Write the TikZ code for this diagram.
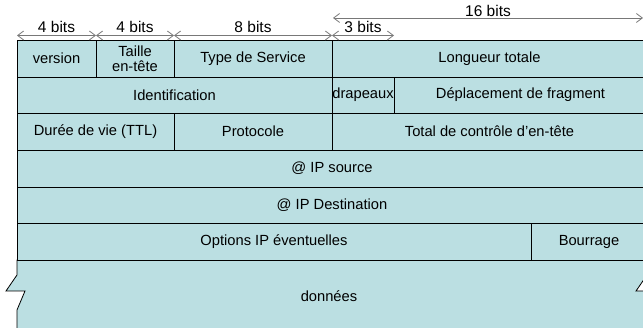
\documentclass[tikz,border=0pt]{standalone}
\usepackage{fontspec}
\setmainfont{Liberation Sans}
\usetikzlibrary{arrows.meta}
\definecolor{cellfill}{RGB}{187,223,226}
\definecolor{dimgrey}{RGB}{120,120,120}
\tikzset{
  cell/.style={draw=black, line width=0.8pt, fill=cellfill, inner sep=0pt,
    font=\fontsize{14.7}{15}\selectfont, align=center},
  dimline/.style={draw=dimgrey, line width=0.8pt,
    {Straight Barb[length=6pt,width=9pt]}-{Straight Barb[length=6pt,width=9pt]}},
  dimlabel/.style={above, inner sep=2pt, font=\fontsize{15.5}{17}\selectfont, text=black},
}
\begin{document}
\begin{tikzpicture}[x=1pt,y=-1pt]
\clip (0,0) rectangle (643,328);
\fill[white] (0,0) rectangle (643,328);
% data block
\draw[line width=0.8pt, fill=cellfill]
  (17,260) -- (17,275) -- (6,291) -- (25,291) -- (17,310) -- (17,345)
  -- (647,345) -- (647,310) -- (655,291) -- (636,291) -- (647,275) -- (647,260) -- cycle;
\node[font=\fontsize{14.7}{16}\selectfont] (data) at (329,296) {données};
% row 1
\node[cell, minimum width=79pt, minimum height=37pt] (version) at (56.5,58.5) {version};
\node[cell, minimum width=78pt, minimum height=37pt] (ihl) at (135,58.5) {Taille\\en-tête};
\node[cell, minimum width=158pt, minimum height=37pt] (tos) at (253,58.5) {Type de Service};
\node[cell, minimum width=315pt, minimum height=37pt] (len) at (489.5,58.5) {Longueur totale};
% row 2
\node[cell, minimum width=315pt, minimum height=36pt] (ident) at (174.5,95) {Identification};
\node[cell, minimum width=62pt, minimum height=36pt] (flags) at (363,95) {drapeaux};
\node[cell, minimum width=253pt, minimum height=36pt] (frag) at (520.5,95) {Déplacement de fragment};
% row 3
\node[cell, minimum width=157pt, minimum height=37pt] (ttl) at (95.5,131.5) {Durée de vie (TTL)};
\node[cell, minimum width=158pt, minimum height=37pt] (proto) at (253,131.5) {Protocole};
\node[cell, minimum width=315pt, minimum height=37pt] (chk) at (489.5,131.5) {Total de contrôle d’en-tête};
% row 4-5
\node[cell, minimum width=630pt, minimum height=37pt] (src) at (332,168.5) {@ IP source};
\node[cell, minimum width=630pt, minimum height=36pt] (dst) at (332,205) {@ IP Destination};
% row 6
\node[cell, minimum width=514pt, minimum height=37pt] (opt) at (274,241.5) {Options IP éventuelles};
\node[cell, minimum width=116pt, minimum height=37pt] (pad) at (589,241.5) {Bourrage};
% dimension arrows
\coordinate (d0) at (17,35.5);
\coordinate (d1) at (96,35.5);
\coordinate (d2) at (174,35.5);
\coordinate (d3) at (332,35.5);
\coordinate (d4) at (394,35.5);
\coordinate (e0) at (333,18);
\coordinate (e1) at (643,18);
\draw[dimline] (d0) -- node[dimlabel] (l1) {4 bits} (d1);
\draw[dimline] (d1) -- node[dimlabel] (l2) {4 bits} (d2);
\draw[dimline] (d2) -- node[dimlabel] (l3) {8 bits} (d3);
\draw[dimline] (d3) -- node[dimlabel] (l4) {3 bits} (d4);
\draw[dimline] (e0) -- node[dimlabel, inner sep=1pt] (l5) {16 bits} (e1);
\end{tikzpicture}
\end{document}
